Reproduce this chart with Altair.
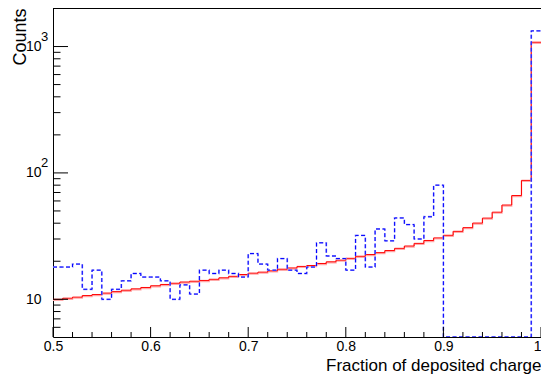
import altair as alt
import pandas as pd

FONT = "Liberation Sans"

# Bin low edges (0.50 ... 0.99) plus the upper edge 1.00
bin_edges = [round(0.50 + 0.01 * i, 2) for i in range(51)]

# Red (solid) histogram contents, 50 bins
red_counts = [10.0, 10.2, 10.4, 10.7, 10.9, 11.2, 11.5, 11.8, 12.1, 12.4,
              12.8, 13.1, 13.4, 13.7, 13.9, 14.1, 14.4, 14.8, 15.2, 15.7,
              16.1, 16.4, 16.8, 17.3, 17.7, 18.2, 18.5, 19.2, 19.8, 20.4,
              21.1, 21.9, 22.6, 23.4, 24.3, 25.3, 26.4, 27.7, 29.2, 30.6,
              32.1, 34.5, 36.9, 40.1, 43.9, 48.9, 55.7, 66.2, 87.3, 1082]

# Blue (dashed) histogram contents, 50 bins
blue_counts = [18, 18, 19, 12, 17, 10, 12, 14, 16, 15,
               15, 14, 10, 13, 11, 17, 16, 17, 16, 15,
               23, 19, 17, 21, 17, 16, 18, 28, 22, 21,
               17, 32, 18, 36, 29, 44, 39, 30, 45, 80,
               0, 0, 0, 0, 0, 0, 0, 0, 0, 1330]

x_major = [0.5, 0.6, 0.7, 0.8, 0.9, 1.0]
x_minor = [0.52, 0.54, 0.56, 0.58, 0.62, 0.64, 0.66, 0.68, 0.72, 0.74, 0.76, 0.78,
           0.82, 0.84, 0.86, 0.88, 0.92, 0.94, 0.96, 0.98]
y_major = [10, 100, 1000]
y_minor = [6, 7, 8, 9, 20, 30, 40, 50, 60, 70, 80, 90,
           200, 300, 400, 500, 600, 700, 800, 900, 2000]
y_exp_pos = [100, 1000]
y_exp_txt = ["2", "3"]

Y_MIN, Y_MAX = 5.03, 2018
W, H = 488, 329

red_df = pd.DataFrame({"x": bin_edges, "y": red_counts + [red_counts[-1]]})
blue_vals = [v if v > 0 else Y_MIN for v in blue_counts]
blue_df = pd.DataFrame({"x": bin_edges, "y": blue_vals + [blue_vals[-1]]})

xscale = alt.Scale(domain=[0.5, 1.0], nice=False, zero=False)
yscale = alt.Scale(type="log", domain=[Y_MIN, Y_MAX], nice=False)

xaxis = alt.Axis(
    values=x_major,
    labelExpr="datum.value == 1 ? '1' : format(datum.value, '.1f')",
    ticks=False, tickSize=0, domain=False, grid=False,
    labelFont=FONT, labelFontSize=14, labelColor="black", labelPadding=2,
    labelAlign={"condition": {"test": "datum.value == 1", "value": "right"}, "value": "center"},
    labelFlush=False, labelOverlap=False,
    title="Fraction of deposited charge", titleFont=FONT, titleFontSize=17,
    titleFontWeight="normal", titleColor="black", titleAnchor="end",
    titleAlign="right", titleBaseline="alphabetic", titleX=W, titleY=33.5,
)
yaxis = alt.Axis(
    values=y_major, labelExpr="'10'",
    ticks=False, tickSize=0, domain=False, grid=False,
    labelFont=FONT, labelFontSize=14, labelColor="black", labelPadding=12,
    labelBaseline="middle", labelAlign="right", labelOverlap=False,
    title="Counts", titleFont=FONT, titleFontSize=18, titleFontWeight="normal",
    titleColor="black", titleAngle=270, titleAlign="right",
    titleBaseline="alphabetic", titleX=-28, titleY=0,
)

X = lambda f: alt.X(f, type="quantitative", scale=xscale, axis=xaxis)
Y = lambda f: alt.Y(f, type="quantitative", scale=yscale, axis=yaxis)

red_shadow = alt.Chart(red_df).mark_line(
    interpolate="step-after", color="#ffa8a8", strokeWidth=1.4, yOffset=1, clip=True
).encode(x=X("x"), y=Y("y"))
red_line = alt.Chart(red_df).mark_line(
    interpolate="step-after", color="#ff0000", strokeWidth=1.0, clip=True
).encode(x=X("x"), y=Y("y"))
blue_shadow = alt.Chart(blue_df).mark_line(
    interpolate="step-after", color="#a0a0ff", strokeWidth=1.8, strokeDash=[4, 2.5],
    clip=True
).encode(x=X("x"), y=Y("y"))
blue_line = alt.Chart(blue_df).mark_line(
    interpolate="step-after", color="#0000ff", strokeWidth=1.0, strokeDash=[4, 2.5],
    clip=True
).encode(x=X("x"), y=Y("y"))

xmaj = alt.Chart(pd.DataFrame({"t": x_major})).mark_rule(color="black", strokeWidth=1).encode(
    x=X("t"), y=alt.value(H), y2=alt.value(H - 10))
xmin = alt.Chart(pd.DataFrame({"t": x_minor})).mark_rule(color="black", strokeWidth=1).encode(
    x=X("t"), y=alt.value(H), y2=alt.value(H - 5))
ymaj = alt.Chart(pd.DataFrame({"t": y_major})).mark_rule(color="black", strokeWidth=1).encode(
    y=Y("t"), x=alt.value(0), x2=alt.value(15))
ymin = alt.Chart(pd.DataFrame({"t": y_minor})).mark_rule(color="black", strokeWidth=1).encode(
    y=Y("t"), x=alt.value(0), x2=alt.value(7.5))

yexp = alt.Chart(pd.DataFrame({"t": y_exp_pos, "e": y_exp_txt})).mark_text(
    align="left", baseline="middle", dy=-10, font=FONT, fontSize=13, color="black"
).encode(y=Y("t"), x=alt.value(-12), text="e:N")

chart = alt.layer(
    red_shadow, red_line, blue_shadow, blue_line, xmaj, xmin, ymaj, ymin, yexp
).properties(
    width=W, height=H,
    autosize=alt.AutoSizeParams(type="none"),
    padding={"left": 45, "top": 0, "right": 0, "bottom": 38},
    background="white",
).configure_view(stroke="black", strokeWidth=1)

chart.save("out.html", embed_options={"renderer": "svg", "actions": False})
